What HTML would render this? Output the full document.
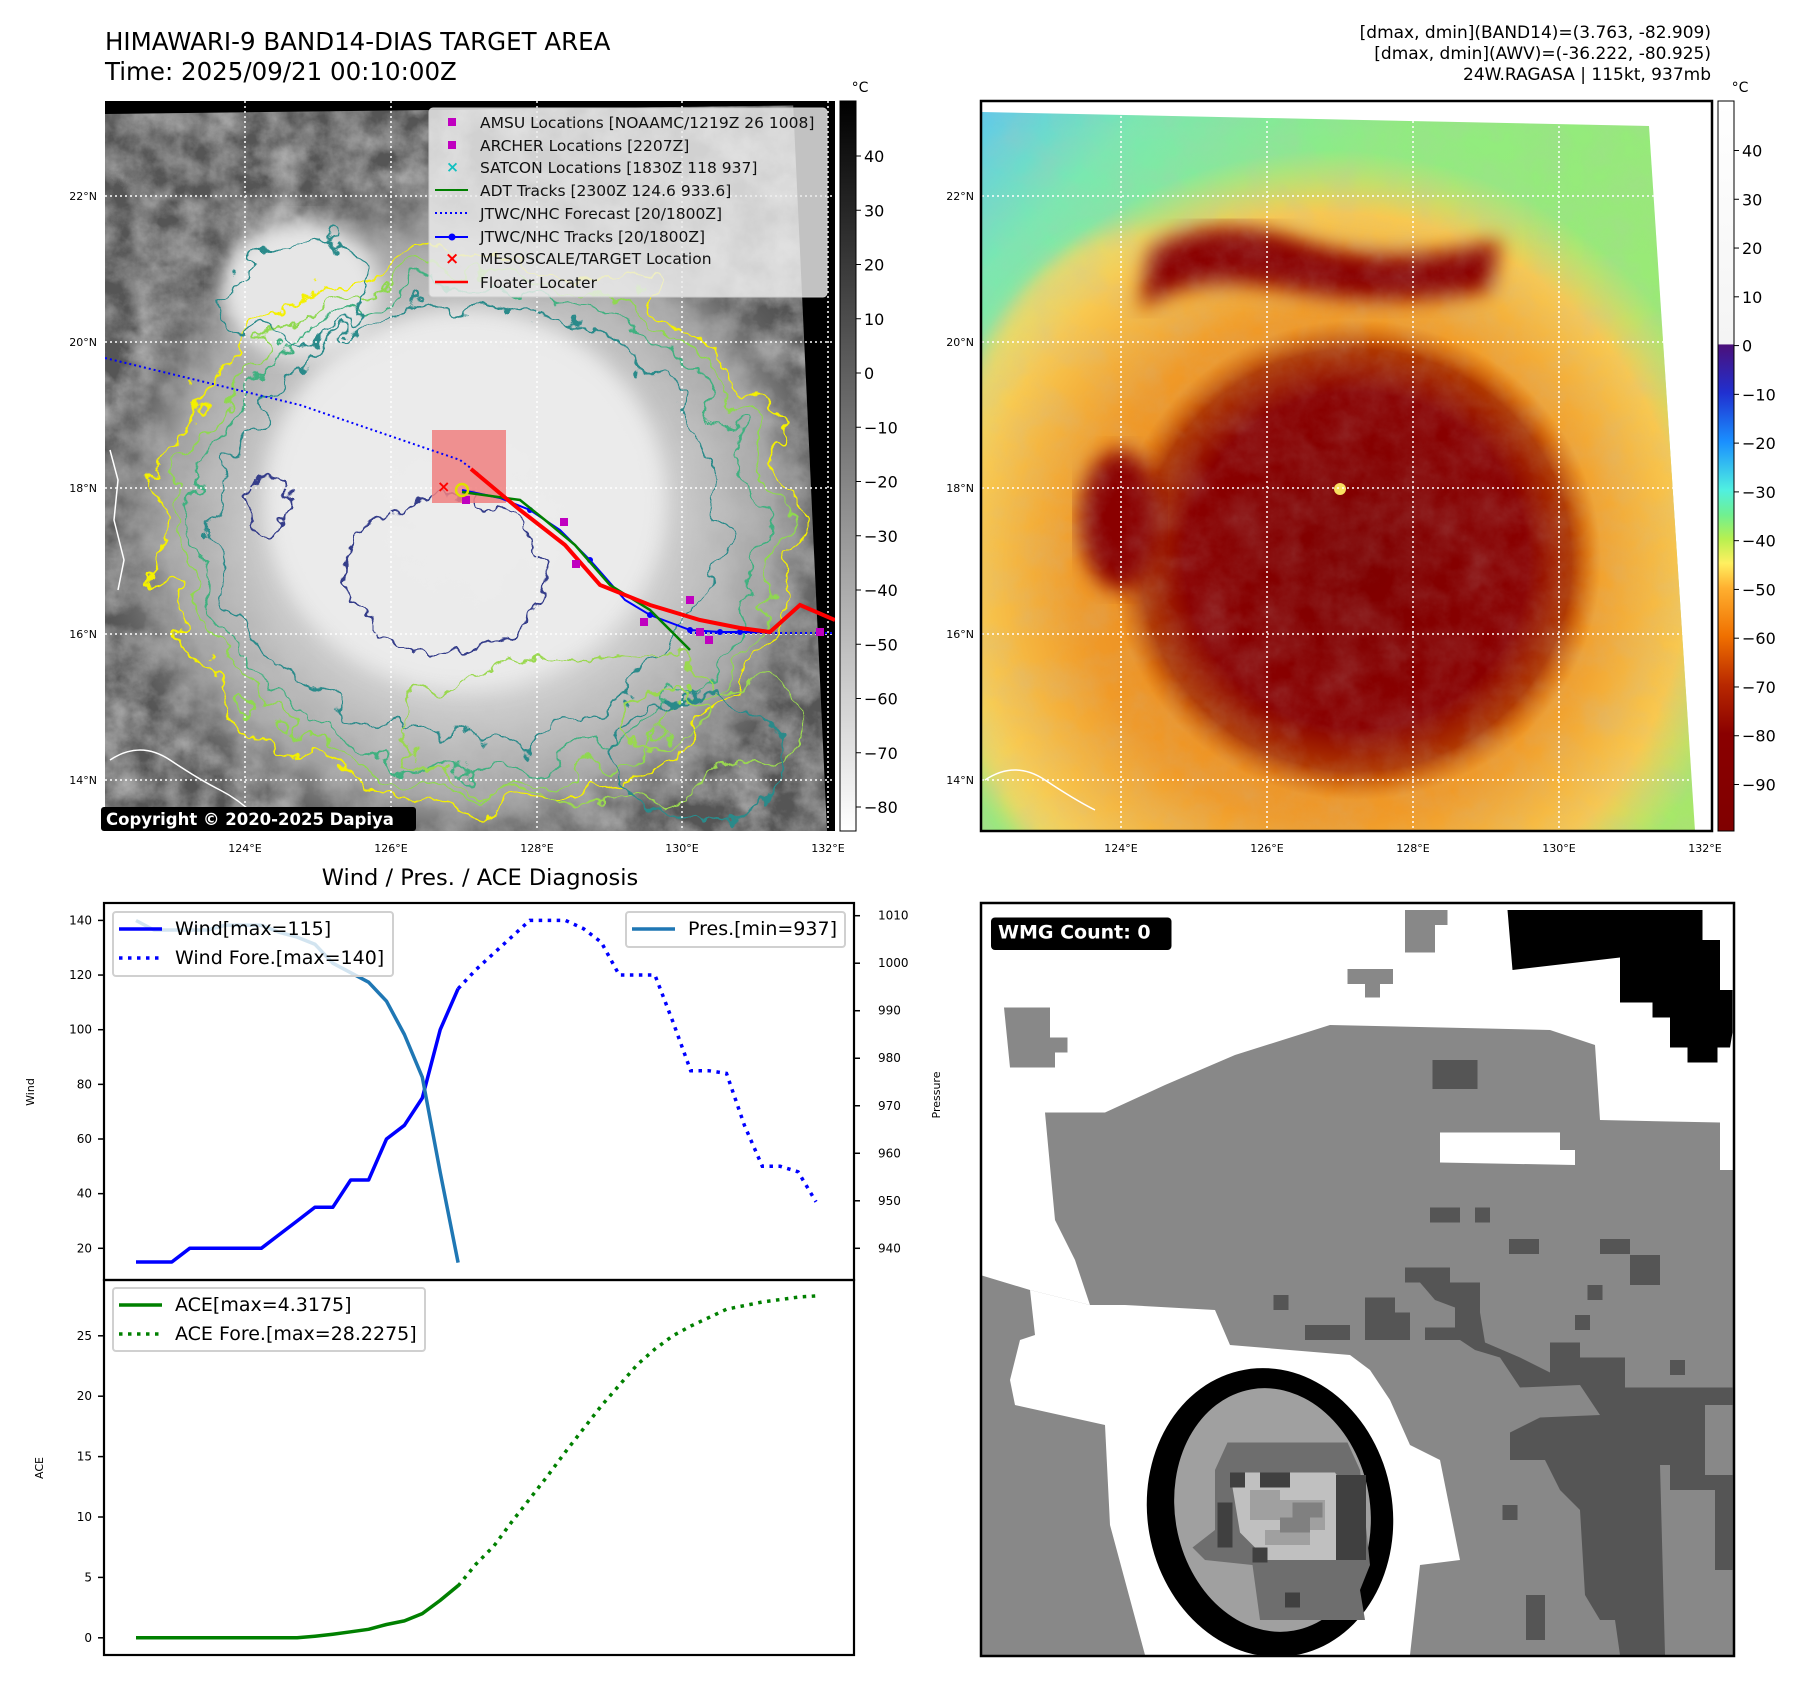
<!DOCTYPE html>
<html><head><meta charset="utf-8">
<style>
html,body{margin:0;padding:0;background:#fff;}
svg{display:block;font-family:"DejaVu Sans","Liberation Sans",sans-serif;}
</style></head>
<body>
<svg id="fig" width="1797" height="1690" viewBox="0 0 1797 1690" xmlns="http://www.w3.org/2000/svg">
<defs>
  <filter id="cloudtex" x="0" y="0" width="100%" height="100%">
    <feTurbulence type="fractalNoise" baseFrequency="0.03" numOctaves="5" seed="3" result="n"/>
    <feColorMatrix type="matrix" values="0 0 0 0 0.5  0 0 0 0 0.5  0 0 0 0 0.5  0.9 0.9 0.9 0 -1.0" in="n"/>
  </filter>
  <filter id="wavy" x="-10%" y="-10%" width="120%" height="120%">
    <feTurbulence type="fractalNoise" baseFrequency="0.04" numOctaves="3" seed="7" result="t"/>
    <feDisplacementMap in="SourceGraphic" in2="t" scale="34" xChannelSelector="R" yChannelSelector="G"/>
  </filter>
  <filter id="wavy2" x="-10%" y="-10%" width="120%" height="120%">
    <feTurbulence type="fractalNoise" baseFrequency="0.02" numOctaves="4" seed="11" result="t"/>
    <feDisplacementMap in="SourceGraphic" in2="t" scale="70" xChannelSelector="R" yChannelSelector="G"/>
  </filter>
  <filter id="blur8"><feGaussianBlur stdDeviation="10"/></filter>
  <radialGradient id="cloudGrad" cx="0.5" cy="0.5" r="0.5">
    <stop offset="0" stop-color="#eeeeee"/>
    <stop offset="0.5" stop-color="#dcdcdc"/>
    <stop offset="0.8" stop-color="#a8a8a8"/>
    <stop offset="1" stop-color="#6a6a6a" stop-opacity="0"/>
  </radialGradient>
  <radialGradient id="irOuter" cx="0.5" cy="0.5" r="0.5">
    <stop offset="0" stop-color="#e07010"/>
    <stop offset="0.6" stop-color="#f09a28"/>
    <stop offset="0.85" stop-color="#f8c850"/>
    <stop offset="1" stop-color="#f8d860" stop-opacity="0"/>
  </radialGradient>
  <radialGradient id="irInner" cx="0.5" cy="0.5" r="0.5">
    <stop offset="0" stop-color="#7e0000"/>
    <stop offset="0.7" stop-color="#8a0000"/>
    <stop offset="0.88" stop-color="#b03800"/>
    <stop offset="1" stop-color="#d06000" stop-opacity="0"/>
  </radialGradient>
  <linearGradient id="irBg" x1="0" y1="0" x2="1" y2="1">
    <stop offset="0" stop-color="#5cc8f0"/>
    <stop offset="0.12" stop-color="#7ae8b0"/>
    <stop offset="0.3" stop-color="#90ec80"/>
    <stop offset="1" stop-color="#a8e868"/>
  </linearGradient>
  <linearGradient id="cb1" x1="0" y1="0" x2="0" y2="1">
    <stop offset="0" stop-color="#000"/>
    <stop offset="1" stop-color="#fff"/>
  </linearGradient>
  <linearGradient id="cb2" x1="0" y1="0" x2="0" y2="1">
    <stop offset="0" stop-color="#ffffff"/>
    <stop offset="0.333" stop-color="#f4f4f4"/>
    <stop offset="0.334" stop-color="#4b107a"/>
    <stop offset="0.40" stop-color="#2030d0"/>
    <stop offset="0.467" stop-color="#1a90ff"/>
    <stop offset="0.533" stop-color="#50f0e0"/>
    <stop offset="0.567" stop-color="#70f090"/>
    <stop offset="0.60" stop-color="#b8f050"/>
    <stop offset="0.633" stop-color="#fff060"/>
    <stop offset="0.667" stop-color="#ffb030"/>
    <stop offset="0.733" stop-color="#f07000"/>
    <stop offset="0.80" stop-color="#b82800"/>
    <stop offset="0.867" stop-color="#8a0000"/>
    <stop offset="1" stop-color="#800000"/>
  </linearGradient>
  <clipPath id="clipL"><rect x="105" y="101" width="730" height="730"/></clipPath>
  <clipPath id="clipR"><polygon points="982,112 1649,126 1695,831 982,831"/></clipPath>
  <clipPath id="clipBR"><rect x="981" y="903" width="753" height="753"/></clipPath>
</defs>

<!-- Titles -->
<text x="105" y="50" font-size="24.5">HIMAWARI-9 BAND14-DIAS TARGET AREA</text>
<text x="105" y="80" font-size="24.5">Time: 2025/09/21 00:10:00Z</text>
<g font-size="17" text-anchor="end">
  <text x="1711" y="38">[dmax, dmin](BAND14)=(3.763, -82.909)</text>
  <text x="1711" y="59">[dmax, dmin](AWV)=(-36.222, -80.925)</text>
  <text x="1711" y="80">24W.RAGASA | 115kt, 937mb</text>
</g>

<!-- LEFT MAP -->
<g>
  <g clip-path="url(#clipL)">
    <rect x="105" y="101" width="730" height="730" fill="#555"/>
    <rect x="105" y="101" width="730" height="730" filter="url(#cloudtex)" opacity="0.8"/>
    <ellipse cx="470" cy="520" rx="380" ry="350" fill="url(#cloudGrad)" opacity="0.92"/>
    <rect x="105" y="101" width="730" height="730" filter="url(#cloudtex)" opacity="0.3"/>
    <ellipse cx="465" cy="500" rx="200" ry="190" fill="#eeeeee" filter="url(#blur8)" opacity="0.9"/>
    <ellipse cx="300" cy="290" rx="80" ry="70" fill="#e6e6e6" filter="url(#blur8)"/>
    <g fill="none" stroke-width="2.2" filter="url(#wavy2)">
      <ellipse cx="478" cy="530" rx="318" ry="275" stroke="#f4f000"/>
      <ellipse cx="478" cy="530" rx="300" ry="258" stroke="#8fd850"/>
      <ellipse cx="475" cy="528" rx="282" ry="240" stroke="#40b080"/>
      <ellipse cx="470" cy="525" rx="250" ry="215" stroke="#2a8a8a"/>
      <ellipse cx="300" cy="290" rx="70" ry="55" stroke="#2a8a8a"/>
      <ellipse cx="600" cy="730" rx="200" ry="70" stroke="#9ad850"/>
    </g>
    <g fill="none" stroke-width="2.2" filter="url(#wavy)">
      <ellipse cx="445" cy="575" rx="100" ry="78" stroke="#353d8a"/>
      <ellipse cx="268" cy="505" rx="22" ry="28" stroke="#353d8a"/>
      <ellipse cx="700" cy="760" rx="90" ry="60" stroke="#2a8a8a"/>
      <ellipse cx="660" cy="720" rx="40" ry="30" stroke="#9ad850"/>
    </g>
    <path d="M110,450 l8,30 -4,40 10,40 -6,30" fill="none" stroke="#fff" stroke-width="1.5"/>
    <path d="M110,760 q30,-20 60,0 t50,30 40,30" fill="none" stroke="#fff" stroke-width="1.5"/>
    <polygon points="105,101 835,101 835,105 105,114" fill="#000"/>
    <polygon points="793,101 835,101 835,831 827,831" fill="#000"/>
    <g stroke="#fff" stroke-width="1.5" stroke-dasharray="2 3">
      <line x1="105" y1="196" x2="835" y2="196"/><line x1="105" y1="342" x2="835" y2="342"/>
      <line x1="105" y1="488" x2="835" y2="488"/><line x1="105" y1="634" x2="835" y2="634"/>
      <line x1="105" y1="780" x2="835" y2="780"/>
      <line x1="245" y1="101" x2="245" y2="831"/><line x1="391" y1="101" x2="391" y2="831"/>
      <line x1="537" y1="101" x2="537" y2="831"/><line x1="682" y1="101" x2="682" y2="831"/>
      <line x1="828" y1="101" x2="828" y2="831"/>
    </g>
    <rect x="432" y="430" width="74" height="73" fill="#f08080" opacity="0.85"/>
    <polyline points="105,358 300,405 460,460 480,475" fill="none" stroke="#0000ff" stroke-width="2" stroke-dasharray="2 3"/>
    <polyline points="690,633 835,633" fill="none" stroke="#0000ff" stroke-width="2" stroke-dasharray="2 3"/>
    <polyline points="462,490 500,498 530,510 560,530 590,560 625,600 650,615 690,630 720,632 760,632" fill="none" stroke="#0000ff" stroke-width="2"/>
    <g fill="#0000ff"><circle cx="530" cy="510" r="3"/><circle cx="590" cy="560" r="3"/><circle cx="650" cy="615" r="3"/><circle cx="690" cy="630" r="3"/><circle cx="720" cy="632" r="3"/><circle cx="740" cy="632" r="3"/></g>
    <polyline points="462,492 520,500 545,520 575,545 610,585 650,610 690,650" fill="none" stroke="#008000" stroke-width="2.5"/>
    <polyline points="471,469 520,510 565,545 600,585 650,605 700,620 740,628 770,632 800,605 835,620" fill="none" stroke="#ff0000" stroke-width="4"/>
    <g fill="#c000c0"><rect x="462" y="496" width="8" height="8"/><rect x="560" y="518" width="8" height="8"/><rect x="572" y="560" width="8" height="8"/><rect x="640" y="618" width="8" height="8"/><rect x="686" y="596" width="8" height="8"/><rect x="696" y="628" width="8" height="8"/><rect x="705" y="636" width="8" height="8"/><rect x="816" y="628" width="8" height="8"/></g>
    <text x="437" y="492" fill="#ff0000" font-size="16" font-weight="bold">×</text>
    <circle cx="462" cy="490" r="6" fill="none" stroke="#e0e000" stroke-width="2.5"/>
  </g>
  <g>
    <rect x="429" y="108" width="398" height="189" rx="4" fill="#ededed" fill-opacity="0.82" stroke="#ccc"/>
    <g font-size="15.5" fill="#111">
      <rect x="448" y="118" width="8" height="8" fill="#c000c0"/><text x="480" y="128">AMSU Locations [NOAAMC/1219Z 26 1008]</text>
      <rect x="448" y="141" width="8" height="8" fill="#c000c0"/><text x="480" y="151">ARCHER Locations [2207Z]</text>
      <text x="446" y="172" fill="#10c0c0" font-weight="bold">×</text><text x="480" y="173">SATCON Locations [1830Z 118 937]</text>
      <line x1="435" y1="190" x2="468" y2="190" stroke="#008000" stroke-width="2"/><text x="480" y="196">ADT Tracks [2300Z 124.6 933.6]</text>
      <line x1="435" y1="213" x2="468" y2="213" stroke="#0000ff" stroke-width="2" stroke-dasharray="2 3"/><text x="480" y="219">JTWC/NHC Forecast [20/1800Z]</text>
      <line x1="435" y1="237" x2="468" y2="237" stroke="#0000ff" stroke-width="2"/><circle cx="452" cy="237" r="3.5" fill="#0000ff"/><text x="480" y="242">JTWC/NHC Tracks [20/1800Z]</text>
      <text x="445" y="264" fill="#ff0000" font-weight="bold" font-size="17">×</text><text x="480" y="264">MESOSCALE/TARGET Location</text>
      <line x1="435" y1="282" x2="468" y2="282" stroke="#ff0000" stroke-width="2.5"/><text x="480" y="288">Floater Locater</text>
    </g>
  </g>
  <rect x="101" y="807" width="315" height="24" rx="3" fill="#000"/>
  <text x="106" y="825" fill="#fff" font-size="16.5" font-weight="bold">Copyright © 2020-2025 Dapiya</text>
  <g font-size="11" text-anchor="end" fill="#000">
    <text x="97" y="200">22°N</text><text x="97" y="346">20°N</text><text x="97" y="492">18°N</text><text x="97" y="638">16°N</text><text x="97" y="784">14°N</text>
  </g>
  <g font-size="11" text-anchor="middle">
    <text x="245" y="852">124°E</text><text x="391" y="852">126°E</text><text x="537" y="852">128°E</text><text x="682" y="852">130°E</text><text x="828" y="852">132°E</text>
  </g>
</g>
<g>
  <rect x="840" y="101" width="16" height="730" fill="url(#cb1)" stroke="#000" stroke-width="1"/>
  <text x="860" y="92" font-size="14" text-anchor="middle">°C</text>
  <g font-size="16" id="cb1ticks"></g>
</g>

<!-- RIGHT MAP -->
<g>
  <g clip-path="url(#clipR)">
    <rect x="981" y="101" width="731" height="730" fill="url(#irBg)"/>
    <ellipse cx="1140" cy="560" rx="200" ry="330" fill="#f8d868" filter="url(#blur8)" opacity="0.8"/>
    <ellipse cx="1330" cy="570" rx="420" ry="420" fill="url(#irOuter)"/>
    <path d="M1150,250 q60,-40 150,-10 t200,0 l-10,50 q-100,20 -200,0 t-150,20 z" fill="#8a0000" filter="url(#blur8)"/>
    <ellipse cx="1356" cy="560" rx="245" ry="240" fill="url(#irInner)"/>
    <ellipse cx="1120" cy="520" rx="40" ry="70" fill="#8a0000" filter="url(#blur8)"/>
    <rect x="981" y="101" width="731" height="730" filter="url(#cloudtex)" opacity="0.2"/>
    <circle cx="1340" cy="489" r="6" fill="#f8e060"/>
    <path d="M985,780 q30,-20 60,0 t50,30" fill="none" stroke="#fff" stroke-width="1.5"/>
  </g>
  <g stroke="#fff" stroke-width="1.5" stroke-dasharray="2 3">
    <line x1="982" y1="196" x2="1712" y2="196"/><line x1="982" y1="342" x2="1712" y2="342"/>
    <line x1="982" y1="488" x2="1712" y2="488"/><line x1="982" y1="634" x2="1712" y2="634"/>
    <line x1="982" y1="780" x2="1712" y2="780"/>
    <line x1="1121" y1="101" x2="1121" y2="831"/><line x1="1267" y1="101" x2="1267" y2="831"/>
    <line x1="1413" y1="101" x2="1413" y2="831"/><line x1="1559" y1="101" x2="1559" y2="831"/>
  </g>
  <rect x="981" y="101" width="731" height="730" fill="none" stroke="#000" stroke-width="2.5"/>
  <g font-size="11" text-anchor="end">
    <text x="974" y="200">22°N</text><text x="974" y="346">20°N</text><text x="974" y="492">18°N</text><text x="974" y="638">16°N</text><text x="974" y="784">14°N</text>
  </g>
  <g font-size="11" text-anchor="middle">
    <text x="1121" y="852">124°E</text><text x="1267" y="852">126°E</text><text x="1413" y="852">128°E</text><text x="1559" y="852">130°E</text><text x="1705" y="852">132°E</text>
  </g>
</g>
<g>
  <rect x="1718" y="101" width="16" height="730" fill="url(#cb2)" stroke="#000" stroke-width="1"/>
  <text x="1740" y="92" font-size="14" text-anchor="middle">°C</text>
  <g font-size="16" id="cb2ticks"></g>
</g>

<!-- BOTTOM RIGHT: WMG panel -->
<g clip-path="url(#clipBR)">
  <rect x="981" y="903" width="753" height="753" fill="#888"/>
  <g transform="translate(980,900) scale(0.5)">
    <polygon fill="#fff" points="0,0 1510,0 1510,540 1480,540 1480,445 1240,440 1230,290 1140,260 700,250 510,310 370,370 250,425 130,425 150,640 190,720 220,810 100,780 0,750"/>
    <polygon fill="#888" points="48,215 140,215 140,275 175,275 175,305 150,305 150,335 60,335"/>
    <polygon fill="#888" points="735,138 826,138 826,168 800,168 800,195 770,195 770,168 735,168"/>
    <polygon fill="#888" points="850,20 935,20 935,50 910,50 910,105 850,105"/>
    <polygon fill="#000" points="1055,20 1445,20 1445,80 1480,80 1480,180 1505,180 1505,265 1500,295 1475,295 1475,325 1415,325 1415,295 1380,295 1380,235 1345,235 1345,205 1280,205 1280,115 1065,140"/>
    <polygon fill="#fff" points="920,465 1160,465 1160,500 1190,500 1190,530 920,525"/>
    <polygon fill="#fff" points="100,780 220,810 290,810 470,820 500,890 740,910 780,940 820,1000 860,1090 920,1120 960,1320 880,1330 860,1510 330,1510 260,1250 250,1050 70,1010 60,960 80,880 110,870"/>
    <g fill="#555">
      <rect x="905" y="320" width="90" height="58"/><rect x="900" y="615" width="60" height="30"/><rect x="990" y="615" width="30" height="30"/>
      <rect x="1058" y="678" width="60" height="30"/><rect x="1240" y="678" width="60" height="30"/>
      <polygon points="850,735 940,735 940,765 1000,765 1000,825 1010,885 1080,915 1140,945 1140,885 1200,885 1200,915 1290,915 1290,975 1505,975 1505,1010 1450,1010 1450,1150 1505,1150 1505,1340 1470,1340 1470,1180 1380,1180 1380,1130 1360,1130 1370,1510 1280,1510 1270,1440 1240,1440 1210,1390 1200,1220 1160,1180 1130,1120 1060,1120 1060,1065 1120,1035 1240,1030 1200,970 1080,975 1040,915 990,900 960,880 890,880 890,855 950,855 950,815 910,800 880,765 850,765"/>
      <polygon points="650,850 740,850 740,880 650,880"/><polygon points="770,795 830,795 830,825 860,825 860,880 770,880"/>
      <rect x="587" y="790" width="30" height="30"/><rect x="1215" y="770" width="30" height="30"/><rect x="1190" y="830" width="30" height="30"/>
      <rect x="1300" y="710" width="60" height="60"/><rect x="1380" y="920" width="30" height="30"/><rect x="1045" y="1210" width="30" height="30"/>
      <rect x="1092" y="1390" width="38" height="90"/>
    </g>
    <ellipse cx="580" cy="1225" rx="245" ry="290" fill="#000" transform="rotate(-10 580 1225)"/>
    <ellipse cx="585" cy="1220" rx="195" ry="245" fill="#a0a0a0" transform="rotate(-10 585 1220)"/>
    <polygon fill="#6e6e6e" points="495,1085 735,1085 760,1140 780,1330 760,1380 770,1440 560,1440 545,1330 450,1320 425,1295 470,1260 470,1140"/>
    <polygon fill="#c0c0c0" points="500,1145 710,1145 750,1205 755,1320 575,1320 520,1265"/>
    <g fill="#a0a0a0"><rect x="540" y="1180" width="60" height="60"/><rect x="600" y="1200" width="90" height="60"/><rect x="570" y="1260" width="90" height="30"/></g>
    <g fill="#808080"><rect x="625" y="1205" width="60" height="30"/><rect x="600" y="1235" width="60" height="30"/></g>
    <g fill="#404040"><rect x="500" y="1145" width="30" height="30"/><rect x="560" y="1145" width="60" height="30"/><rect x="475" y="1205" width="30" height="90"/><rect x="712" y="1150" width="60" height="170"/><rect x="545" y="1295" width="30" height="30"/><rect x="610" y="1385" width="30" height="30"/></g>
    <rect x="22" y="35" width="361" height="65" rx="8" fill="#000"/>
    <text x="36" y="77" fill="#fff" font-size="38" font-weight="bold">WMG Count: 0</text>
  </g>
</g>
<rect x="981" y="903" width="753" height="753" fill="none" stroke="#000" stroke-width="2.5"/>

<!-- BOTTOM LEFT CHART -->
<text x="480" y="885" font-size="22.5" text-anchor="middle">Wind / Pres. / ACE Diagnosis</text>
<g id="chart"></g>

<script>
// ---- chart data ----
var windObs = [15,15,15,20,20,20,20,20,25,30,35,35,45,45,60,65,75,100,115];
var windFore = [115,122,128,134,140,140,140,137,132,120,120,120,103,85,85,84,65,50,50,48,37];
var presObs = [1009,1007,1007,1007,1007,1008,1008,1008,1006.5,1005.5,1004,1000,998,996,992,985,976,956,937];
var aceObs = [0,0,0,0,0,0,0,0,0,0,0.13,0.3,0.5,0.7,1.1,1.4,2.0,3.1,4.3175];
var aceFore = [4.3,6.1,7.6,9.6,11.5,13.4,15.4,17.3,19.2,20.9,22.6,23.9,25,25.8,26.5,27.2,27.5,27.8,28,28.2,28.3];
var windTicks = [20,40,60,80,100,120,140];
var presTicks = [940,950,960,970,980,990,1000,1010];
var aceTicks = [0,5,10,15,20,25];
var cb1Ticks = [40,30,20,10,0,-10,-20,-30,-40,-50,-60,-70,-80];
var cb2Ticks = [40,30,20,10,0,-10,-20,-30,-40,-50,-60,-70,-80,-90];

var NS = 'http://www.w3.org/2000/svg';
var L = 104, R = 854, T = 903, M = 1280, B = 1655;
var foreStart = windObs.length - 1;
var nTotal = foreStart + windFore.length - 1;
function X(i){ return 136 + i * (816 - 136) / nTotal; }
function YW(v){ return 1248.3 + (v - 20) * (920.4 - 1248.3) / 120; }
function YP(v){ return 1248.3 + (v - 940) * (915.7 - 1248.3) / 70; }
function YA(v){ return 1637.8 - v * (1637.8 - 1335.8) / 25; }
function CB1(v){ return 156 + (40 - v) * 5.425; }
function CB2(v){ return 150.5 + (40 - v) * 4.877; }
function mk(tag, attrs, parent){ var e = document.createElementNS(NS, tag); for (var k in attrs) e.setAttribute(k, attrs[k]); parent.appendChild(e); return e; }
function pts(arr, off, yf){ return arr.map(function(v,i){ return X(i+off).toFixed(1)+','+yf(v).toFixed(1); }).join(' '); }
function fmt(v){ return v < 0 ? '\u2212' + Math.abs(v) : String(v); }

var g = document.getElementById('chart');
mk('rect', {x:L, y:T, width:R-L, height:B-T, fill:'#fff'}, g);

var p1 = mk('polyline', {points:pts(windObs,0,YW), fill:'none', stroke:'#0000ff', 'stroke-width':3.5, 'stroke-linejoin':'round'}, g);


var p2 = mk('polyline', {points:pts(windFore,foreStart,YW), fill:'none', stroke:'#0000ff', 'stroke-width':3.5, 'stroke-dasharray':'3.5 5.5'}, g);


var p3 = mk('polyline', {points:pts(presObs,0,YP), fill:'none', stroke:'#1f77b4', 'stroke-width':3.5, 'stroke-linejoin':'round'}, g);


var p4 = mk('polyline', {points:pts(aceObs,0,YA), fill:'none', stroke:'#008000', 'stroke-width':3.5, 'stroke-linejoin':'round'}, g);


var p5 = mk('polyline', {points:pts(aceFore,foreStart,YA), fill:'none', stroke:'#008000', 'stroke-width':3.5, 'stroke-dasharray':'3.5 5.5'}, g);



mk('rect', {x:L, y:T, width:R-L, height:M-T, fill:'none', stroke:'#000', 'stroke-width':2.2}, g);
mk('rect', {x:L, y:M, width:R-L, height:B-M, fill:'none', stroke:'#000', 'stroke-width':2.2}, g);

windTicks.forEach(function(v){
  var y = YW(v);
  mk('line', {x1:L-6, y1:y, x2:L, y2:y, stroke:'#000', 'stroke-width':1.5}, g);
  var t = mk('text', {x:L-12, y:y+4, 'font-size':12, 'text-anchor':'end'}, g); t.textContent = v;
  
  
});
presTicks.forEach(function(v){
  var y = YP(v);
  mk('line', {x1:R, y1:y, x2:R+6, y2:y, stroke:'#000', 'stroke-width':1.5}, g);
  var t = mk('text', {x:R+24, y:y+4, 'font-size':12}, g); t.textContent = v;
  
  
});
aceTicks.forEach(function(v){
  var y = YA(v);
  mk('line', {x1:L-6, y1:y, x2:L, y2:y, stroke:'#000', 'stroke-width':1.5}, g);
  var t = mk('text', {x:L-12, y:y+4, 'font-size':12, 'text-anchor':'end'}, g); t.textContent = v;
  
  
});
var a1 = mk('text', {x:0, y:0, 'font-size':11, 'text-anchor':'middle', transform:'translate(34,1092) rotate(-90)'}, g); a1.textContent = 'Wind';


var a2 = mk('text', {x:0, y:0, 'font-size':11, 'text-anchor':'middle', transform:'translate(940,1095) rotate(-90)'}, g); a2.textContent = 'Pressure';


var a3 = mk('text', {x:0, y:0, 'font-size':11, 'text-anchor':'middle', transform:'translate(43,1468) rotate(-90)'}, g); a3.textContent = 'ACE';



function legend(x, y, w, h, entries, name){
  var lg = mk('g', {}, g);
  
  
  mk('rect', {x:x, y:y, width:w, height:h, rx:3, fill:'#fff', 'fill-opacity':0.8, stroke:'#d0d0d0', 'stroke-width':2}, lg);
  entries.forEach(function(e, i){
    var ly = y + 17 + i * 29;
    var a = {x1:x+6, y1:ly, x2:x+49, y2:ly, stroke:e[1], 'stroke-width':3.5};
    if (e[2]) a['stroke-dasharray'] = '3.5 5.5';
    mk('line', a, lg);
    var t = mk('text', {x:x+62, y:ly+6, 'font-size':19}, lg); t.textContent = e[0];
  });
}
legend(113, 912, 280, 64, [['Wind[max=115]','#0000ff',0],['Wind Fore.[max=140]','#0000ff',1]], 'wind-legend');
legend(626, 912, 219, 35, [['Pres.[min=937]','#1f77b4',0]], 'pressure-legend');
legend(113, 1288, 312, 63, [['ACE[max=4.3175]','#008000',0],['ACE Fore.[max=28.2275]','#008000',1]], 'ace-legend');

var c1 = document.getElementById('cb1ticks');
cb1Ticks.forEach(function(v){
  var y = CB1(v);
  mk('line', {x1:856, y1:y, x2:861, y2:y, stroke:'#000', 'stroke-width':1}, c1);
  var t = mk('text', {x:864, y:y+6}, c1); t.textContent = fmt(v);
  
  
});
var c2 = document.getElementById('cb2ticks');
cb2Ticks.forEach(function(v){
  var y = CB2(v);
  mk('line', {x1:1734, y1:y, x2:1739, y2:y, stroke:'#000', 'stroke-width':1}, c2);
  var t = mk('text', {x:1742, y:y+6}, c2); t.textContent = fmt(v);
  
  
});
</script>
</svg>
</body></html>
